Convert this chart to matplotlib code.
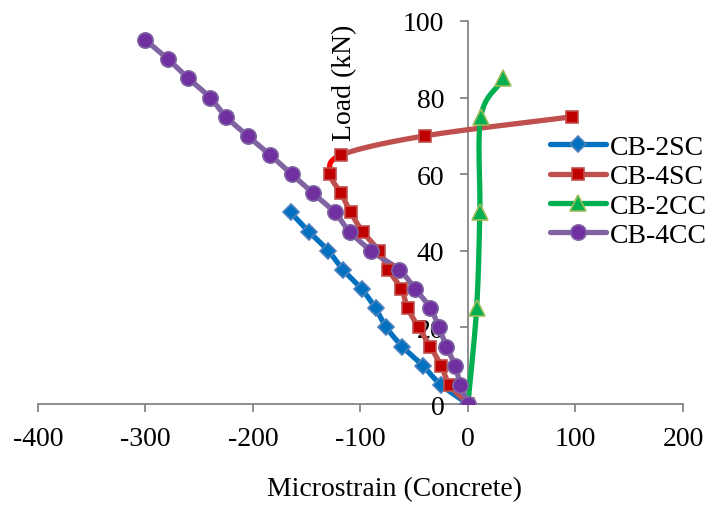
import numpy as np
import matplotlib.pyplot as plt
from matplotlib.lines import Line2D

plt.rcParams['font.family'] = ['Liberation Serif', 'DejaVu Serif']
plt.rcParams['axes.unicode_minus'] = False

# load (kN) and microstrain for each beam
load_2sc = [0, 5, 10, 15, 20, 25, 30, 35, 40, 45, 50]
strain_2sc = [0, -25, -42, -61, -76, -86, -99, -116, -130, -148, -165]

load_4sc = [0, 5, 10, 15, 20, 25, 30, 35, 40, 45, 50, 55, 60, 65, 70, 75]
strain_4sc = [0, -17, -25, -35, -46, -56, -62, -74, -83, -98, -109, -118, -128, -118, -40, 97]

load_2cc = [0, 25, 50, 75, 85]
strain_2cc = [0, 8, 11, 12, 33]

load_4cc = [0, 5, 10, 15, 20, 25, 30, 35, 40, 45, 50, 55, 60, 65, 70, 75, 80, 85, 90, 95]
strain_4cc = [0, -7, -12, -20, -27, -35, -49, -64, -90, -110, -124, -144, -164, -184,
              -205, -225, -240, -260, -279, -300]

labels = ["CB-2SC", "CB-4SC", "CB-2CC", "CB-4CC"]


def smooth(x, y, n=20):
    # catmull-rom curve through the points, like excel's smoothed line
    x = np.asarray(x, float)
    y = np.asarray(y, float)
    px = np.concatenate([[2 * x[0] - x[1]], x, [2 * x[-1] - x[-2]]])
    py = np.concatenate([[2 * y[0] - y[1]], y, [2 * y[-1] - y[-2]]])
    segs = []
    t = np.linspace(0, 1, n)
    for i in range(1, len(px) - 2):
        seg = []
        for p in (px, py):
            p0, p1, p2, p3 = p[i - 1], p[i], p[i + 1], p[i + 2]
            seg.append(0.5 * ((2 * p1) + (-p0 + p2) * t
                              + (2 * p0 - 5 * p1 + 4 * p2 - p3) * t ** 2
                              + (-p0 + 3 * p1 - 3 * p2 + p3) * t ** 3))
        segs.append(seg)
    return segs


styles = [
    dict(line="#0070C0", marker="D", face="#0070C0", edge="#4F81BD", ms=8),
    dict(line="#C0504D", marker="s", face="#C00000", edge="#C0504D", ms=8),
    dict(line="#00B050", marker="^", face="#00B050", edge="#9BBB59", ms=11),
    dict(line="#8064A2", marker="o", face="#7030A0", edge="#8064A2", ms=11),
]

fig = plt.figure(figsize=(7.09, 5.06), dpi=100)
ax = fig.add_axes([0.0536, 0.1996, 0.9097, 0.757])

series = [(strain_2sc, load_2sc), (strain_4sc, load_4sc),
          (strain_2cc, load_2cc), (strain_4cc, load_4cc)]
handles = []
for k, ((sx, sy), st) in enumerate(zip(series, styles)):
    for j, (cx, cy) in enumerate(smooth(sx, sy)):
        col = st["line"]
        if k == 1 and j == 12:  # the 60-65 kN piece of CB-4SC is bright red
            col = "#FF0000"
        ax.plot(cx, cy, color=col, lw=3.8, solid_capstyle="round", zorder=2)
    ax.plot(sx, sy, ls="none", marker=st["marker"], ms=st["ms"],
            mfc=st["face"], mec=st["edge"], mew=1.2, zorder=3)
    handles.append(Line2D([], [], color=st["line"], lw=3.8, marker=st["marker"],
                          ms=st["ms"], mfc=st["face"], mec=st["edge"], mew=1.2,
                          solid_capstyle="round"))

ax.set_xlim(-400, 200)
ax.set_ylim(0, 100)
ax.set_xticks(range(-400, 201, 100))
ax.set_yticks(range(0, 101, 20))

for s in ["top", "right"]:
    ax.spines[s].set_visible(False)
ax.spines["left"].set_position(("data", 0))
ax.spines["bottom"].set_position(("data", 0))
for s in ["left", "bottom"]:
    ax.spines[s].set_color("#868686")
    ax.spines[s].set_linewidth(1.3)
    ax.spines[s].set_zorder(1)
ax.tick_params(axis="both", colors="#868686", labelcolor="black",
               labelsize=20, length=6, width=1.3)
ax.tick_params(axis="x", direction="out", pad=10)
ax.tick_params(axis="y", direction="out", pad=11)

ax.text(-115, 84, "Load (kN)", rotation=90, fontsize=20, ha="center", va="center")
fig.text(0.557, 0.032, "Microstrain (Concrete)", fontsize=20, ha="center", va="center")

fig.legend(handles, labels, loc="upper left", bbox_to_anchor=(0.776, 0.732),
           frameon=False, fontsize=20, handlelength=2.0, labelspacing=0.14,
           handletextpad=0.15, borderaxespad=0, borderpad=0)

fig.savefig("out.png", dpi=100)
